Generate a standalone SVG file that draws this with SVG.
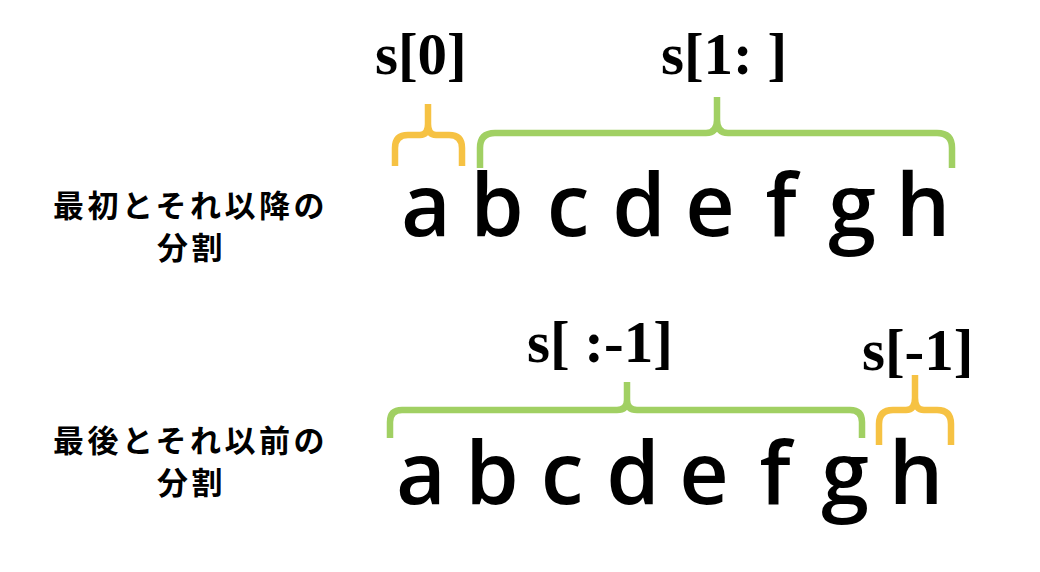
<svg xmlns="http://www.w3.org/2000/svg" width="1040" height="572" viewBox="0 0 1040 572">
<style>
.jp{font-family:"Noto Sans CJK JP","Noto Sans",sans-serif;font-weight:700;font-size:31px;letter-spacing:3.5px;fill:#000}
.lbl{font-family:"Liberation Serif","Times New Roman",serif;font-weight:700;font-size:59px;fill:#000}
.ch{font-family:"Open Sans","Noto Sans",sans-serif;font-weight:600;font-size:86px;fill:#000;text-anchor:middle}
.br{fill:none;stroke-width:6.5;stroke-linecap:butt;stroke-linejoin:round}
.or{stroke:#F6C243}
.gr{stroke:#A1D063}
</style>
<rect width="1040" height="572" fill="#fff"/>

<g id="row1-title">
<text class="jp" x="53" y="217">最初とそれ以降の</text>
<text class="jp" x="157" y="259">分割</text>
</g>
<g id="row2-title">
<text class="jp" x="53" y="452">最後とそれ以前の</text>
<text class="jp" x="157" y="494">分割</text>
</g>

<g id="row1-labels">
<text class="lbl" x="375" y="74">s[0]</text>
<text class="lbl" x="661" y="74">s[1: ]</text>
</g>
<g id="row2-labels">
<text class="lbl" x="527" y="362">s[ :-1]</text>
<text class="lbl" x="862" y="370">s[-1]</text>
</g>

<g id="row1-letters">
<text class="ch" x="426" y="236">a</text>
<text class="ch" x="497" y="236">b</text>
<text class="ch" x="568" y="236">c</text>
<text class="ch" x="639" y="236">d</text>
<text class="ch" x="710" y="236">e</text>
<text class="ch" x="781" y="236">f</text>
<text class="ch" x="852" y="236">g</text>
<text class="ch" x="923" y="236">h</text>
</g>
<g id="row2-letters">
<text class="ch" x="421" y="504">a</text>
<text class="ch" x="492" y="504">b</text>
<text class="ch" x="562" y="504">c</text>
<text class="ch" x="633" y="504">d</text>
<text class="ch" x="704" y="504">e</text>
<text class="ch" x="775" y="504">f</text>
<text class="ch" x="845" y="504">g</text>
<text class="ch" x="916" y="504">h</text>
</g>

<g id="connectors">
<path class="br or" d="M395,166 V148 Q395,135 408,135 H420 Q428,135 428,124 V104 M428,124 Q428,135 436,135 H449 Q462,135 462,148 V166"/>
<path class="br gr" d="M480,168 V148 Q480,133 495,133 H706 Q717,133 717,120 V97 M717,120 Q717,133 728,133 H937 Q952,133 952,148 V168"/>
<path class="br gr" d="M390,438 V422 Q390,410 402,410 H617 Q627,410 627,400 V382 M627,400 Q627,410 637,410 H850 Q862,410 862,422 V438"/>
<path class="br or" d="M879,445 V424 Q879,410 893,410 H906 Q915,410 915,398 V375 M915,398 Q915,410 924,410 H937 Q951,410 951,424 V445"/>
</g>
</svg>
